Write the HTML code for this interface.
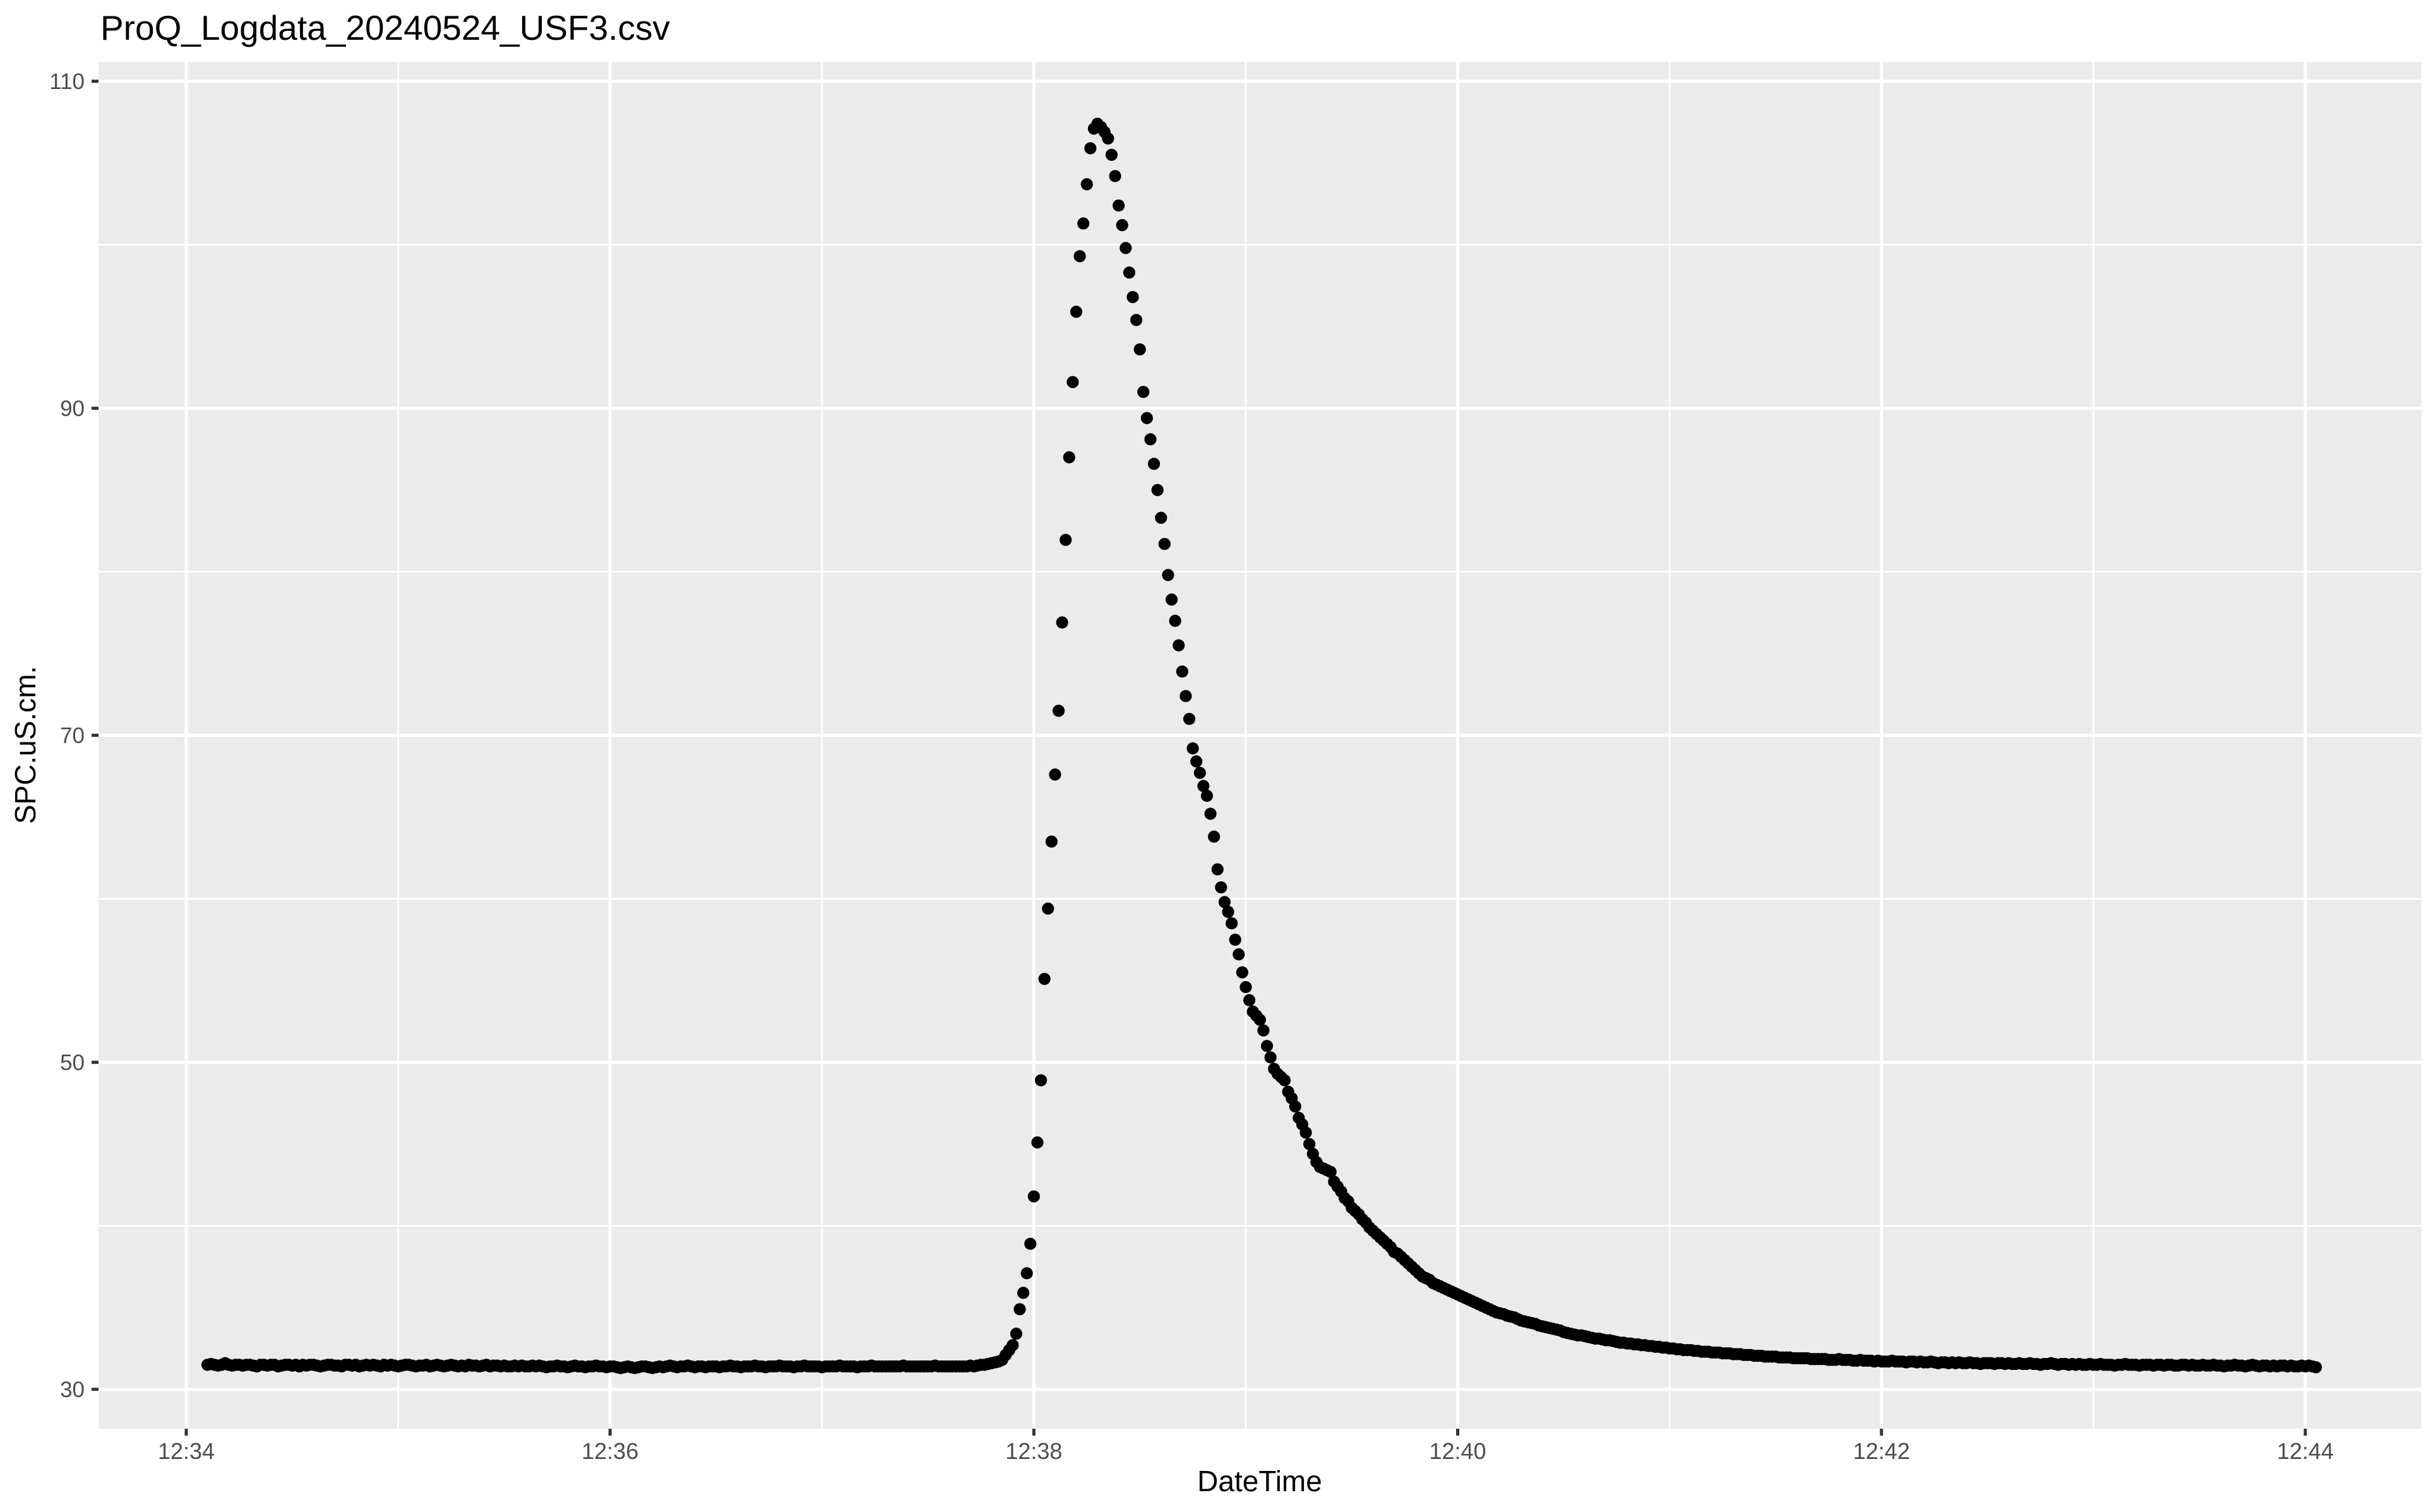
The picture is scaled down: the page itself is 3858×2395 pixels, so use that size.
<!DOCTYPE html>
<html><head><meta charset="utf-8"><title>ProQ_Logdata_20240524_USF3.csv</title>
<style>
html,body{margin:0;padding:0;background:#fff;}
svg{display:block;font-family:"Liberation Sans",Arial,sans-serif;}
</style></head>
<body>
<svg id="chart" width="3858" height="2395" viewBox="0 0 3858 2395" xmlns="http://www.w3.org/2000/svg">
<rect x="0" y="0" width="3858" height="2395" fill="#ffffff"/>
<text x="159" y="63" font-size="55" fill="#000">ProQ_Logdata_20240524_USF3.csv</text>
<rect x="156" y="98" width="3679" height="2165" fill="#EBEBEB"/>
<g id="grid"></g>
<g id="points"></g>
<g id="axes"></g>
<text x="1995" y="2362" font-size="46" text-anchor="middle" fill="#000">DateTime</text>
<text transform="translate(56,1180) rotate(-90)" font-size="46" text-anchor="middle" fill="#000">SPC.uS.cm.</text>
</svg>
<script>
// time of first sample, seconds after 12:34:00; one sample per second
const startSecond = 6;
const xTickMinutes = [0, 2, 4, 6, 8, 10];
const xTickLabels = ["12:34", "12:36", "12:38", "12:40", "12:42", "12:44"];
const xMinorMinutes = [1, 3, 5, 7, 9];
const yTickValues = [30, 50, 70, 90, 110];
const yTickLabels = ["30", "50", "70", "90", "110"];
const yMinorValues = [40, 60, 80, 100];
const baselineValues = [
31.5,31.55,31.5,31.45,31.5,31.6,31.5,31.45,31.5,31.5,31.45,31.5,31.5,31.45,31.4,31.5,
31.5,31.45,31.5,31.5,31.4,31.45,31.5,31.5,31.45,31.5,31.4,31.5,31.45,31.5,31.5,31.45,
31.4,31.45,31.5,31.5,31.45,31.45,31.4,31.5,31.5,31.45,31.5,31.4,31.45,31.5,31.45,31.5,
31.45,31.4,31.5,31.45,31.5,31.45,31.4,31.45,31.5,31.5,31.45,31.4,31.45,31.45,31.5,31.4,
31.45,31.5,31.45,31.4,31.45,31.5,31.45,31.4,31.45,31.4,31.5,31.45,31.45,31.4,31.45,31.5,
31.4,31.45,31.45,31.4,31.45,31.4,31.4,31.45,31.4,31.45,31.4,31.4,31.45,31.4,31.45,31.4,
31.35,31.4,31.4,31.45,31.4,31.4,31.35,31.4,31.45,31.4,31.4,31.35,31.4,31.4,31.45,31.4,
31.4,31.35,31.4,31.4,31.35,31.3,31.35,31.4,31.35,31.3,31.35,31.4,31.4,31.35,31.3,31.35,
31.4,31.35,31.4,31.45,31.4,31.35,31.4,31.4,31.45,31.4,31.35,31.4,31.4,31.35,31.4,31.4,
31.4,31.35,31.4,31.4,31.45,31.4,31.4,31.35,31.4,31.4,31.4,31.45,31.4,31.4,31.35,31.4,
31.4,31.4,31.45,31.4,31.4,31.4,31.35,31.4,31.4,31.45,31.4,31.4,31.4,31.4,31.35,31.4,
31.4,31.4,31.4,31.45,31.4,31.4,31.4,31.4,31.35,31.4,31.4,31.4,31.45,31.4,31.4,31.4,
31.4,31.4,31.4,31.4,31.4,31.45,31.4,31.4,31.4,31.4,31.4,31.4,31.4,31.4,31.45,31.4,
31.4,31.4,31.4,31.4,31.4,31.4,31.4,31.4,31.45,31.4,31.45,31.5,31.5,31.55,31.6,31.65];
const peakValues = [
31.7,31.8,32.1,32.4,32.7,33.4,34.9,35.9,37.1,38.9,
41.8,45.1,48.9,55.1,59.4,63.5,67.6,71.5,76.9,81.95,
87.0,91.6,95.9,99.3,101.3,103.7,105.9,107.1,107.4,107.2,
106.9,106.5,105.5,104.2,102.4,101.2,99.8,98.3,96.8,95.4,
93.6,91.0,89.4,88.1,86.6,85.0,83.3,81.7,79.8,78.3,
77.0,75.5,73.9,72.4,71.0,69.2,68.4,67.7,66.9,66.3,
65.2,63.8,61.8,60.7,59.8,59.2,58.5,57.5,56.6,55.5,
54.6,53.8,53.1,52.85,52.6,51.95,51.0,50.3,49.6,49.3,
49.1,48.9,48.2,47.8,47.3,46.6,46.2,45.7,45.0,44.4,
43.9,43.6,43.5,43.4,43.3,42.7,42.4,42.1,41.7,41.5,
41.1];
const tailValues = [
40.9,40.7,40.4,40.2,39.9,39.7,39.5,39.3,39.1,38.9,
38.7,38.4,38.3,38.1,37.9,37.7,37.5,37.3,37.1,36.9,
36.8,36.7,36.5,36.4,36.3,36.2,36.1,36.0,35.9,35.8,
35.7,35.6,35.5,35.4,35.3,35.2,35.1,35.0,34.9,34.8,
34.7,34.65,34.6,34.5,34.45,34.4,34.3,34.2,34.15,34.1,
34.05,34.0,33.9,33.85,33.8,33.75,33.7,33.65,33.6,33.5,
33.45,33.4,33.35,33.3,33.3,33.25,33.2,33.15,33.1,33.1,
33.05,33.0,33.0,32.95,32.9,32.85,32.85,32.8,32.8,32.75,
32.75,32.7,32.7,32.65,32.65,32.6,32.6,32.55,32.55,32.5,
32.5,32.45,32.45,32.4,32.4,32.4,32.35,32.35,32.3,32.3,
32.3,32.25,32.25,32.25,32.2,32.2,32.2,32.15,32.15,32.15,
32.1,32.1,32.1,32.05,32.05,32.05,32.0,32.0,32.0,32.0,
31.95,31.95,31.95,31.95,31.9,31.9,31.9,31.9,31.9,31.85,
31.85,31.85,31.85,31.85,31.8,31.8,31.8,31.85,31.8,31.8,
31.8,31.75,31.75,31.8,31.75,31.75,31.75,31.7,31.75,31.7,
31.7,31.7,31.75,31.7,31.7,31.7,31.65,31.7,31.7,31.65,
31.7,31.65,31.65,31.7,31.65,31.6,31.65,31.65,31.6,31.65,
31.6,31.65,31.6,31.6,31.65,31.6,31.6,31.55,31.6,31.6,
31.6,31.55,31.6,31.6,31.55,31.6,31.55,31.55,31.6,31.55,
31.55,31.6,31.55,31.55,31.5,31.55,31.55,31.6,31.55,31.5,
31.55,31.55,31.5,31.55,31.5,31.55,31.5,31.5,31.55,31.5,
31.5,31.55,31.5,31.5,31.5,31.45,31.5,31.5,31.55,31.5,
31.5,31.5,31.45,31.5,31.5,31.5,31.45,31.5,31.5,31.45,
31.5,31.5,31.45,31.45,31.5,31.5,31.45,31.5,31.45,31.45,
31.5,31.45,31.45,31.5,31.45,31.45,31.4,31.45,31.45,31.5,
31.45,31.45,31.4,31.45,31.5,31.45,31.4,31.45,31.45,31.4,
31.45,31.4,31.45,31.45,31.4,31.45,31.4,31.4,31.45,31.4,
31.45,31.4,31.35];

const NS = "http://www.w3.org/2000/svg";
const P = {left:156, right:3835, top:98, bottom:2263};
function xScale(sec){ return 295 + sec * (3651 - 295) / 600; }
function yScale(v){ return 2200.7 - (v - 30) * (2200.7 - 128.7) / 80; }
function mk(tag, attrs, parent){
  const e = document.createElementNS(NS, tag);
  for (const k in attrs) e.setAttribute(k, attrs[k]);
  parent.appendChild(e);
  return e;
}
const grid = document.getElementById('grid');
const axes = document.getElementById('axes');
const pts = document.getElementById('points');

yMinorValues.forEach(v => {
  const l = mk('line', {x1:P.left, x2:P.right, y1:yScale(v), y2:yScale(v), stroke:'#fff', 'stroke-width':2.6}, grid);
  
  
});
xMinorMinutes.forEach(m => {
  const l = mk('line', {x1:xScale(m*60), x2:xScale(m*60), y1:P.top, y2:P.bottom, stroke:'#fff', 'stroke-width':2.6}, grid);
  
  
});
yTickValues.forEach((v, i) => {
  const y = yScale(v);
  const l = mk('line', {x1:P.left, x2:P.right, y1:y, y2:y, stroke:'#fff', 'stroke-width':5.2}, grid);
  
  
  const t = mk('line', {x1:P.left-11, x2:P.left, y1:y, y2:y, stroke:'#333', 'stroke-width':5}, axes);
  
  
  const tx = mk('text', {x:134, y:y+12.5, 'font-size':35, 'text-anchor':'end', fill:'#4D4D4D'}, axes);
  tx.textContent = yTickLabels[i];
  
  
});
xTickMinutes.forEach((m, i) => {
  const x = xScale(m*60);
  const l = mk('line', {x1:x, x2:x, y1:P.top, y2:P.bottom, stroke:'#fff', 'stroke-width':5.2}, grid);
  
  
  const t = mk('line', {x1:x, x2:x, y1:P.bottom, y2:P.bottom+11, stroke:'#333', 'stroke-width':5}, axes);
  
  
  const tx = mk('text', {x:x, y:2311, 'font-size':36, 'text-anchor':'middle', fill:'#4D4D4D'}, axes);
  tx.textContent = xTickLabels[i];
  
  
});

const allValues = baselineValues.concat(peakValues, tailValues);
allValues.forEach((v, i) => {
  const c = mk('circle', {cx:xScale(startSecond + i), cy:yScale(v), r:9.6, fill:'#000'}, pts);
  
  
});
</script>
</body></html>
